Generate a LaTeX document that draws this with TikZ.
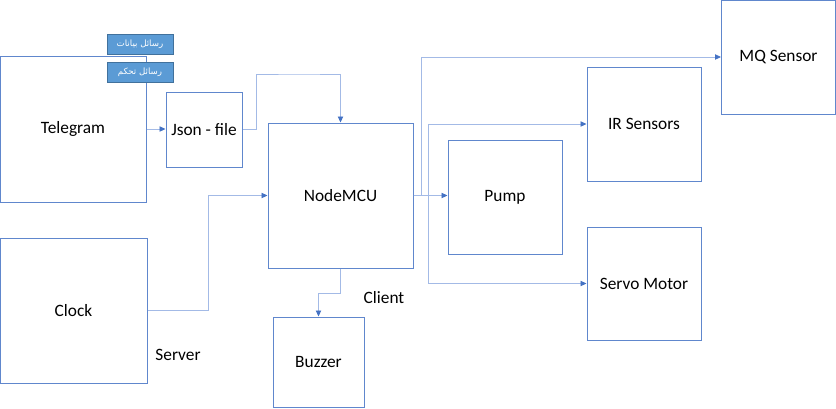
\documentclass[tikz,border=0pt]{standalone}
\usepackage{fontspec}
\setmainfont{Carlito}
\newfontfamily\arabicfont[Script=Arabic]{DejaVu Sans}
\TeXXeTstate=1
\usetikzlibrary{arrows.meta}

\definecolor{boxblue}{HTML}{4472C4}
\definecolor{wireblue}{HTML}{A3BAE6}
\definecolor{tagfill}{HTML}{5B9BD5}
\definecolor{tagdraw}{HTML}{41719C}

\tikzset{
  box/.style 2 args={draw=boxblue!85, line width=0.75pt, inner sep=0pt,
    minimum width=#1*0.75pt, minimum height=#2*0.75pt,
    font=\fontsize{13}{15}\selectfont},
  tag/.style={draw=tagdraw, fill=tagfill, line width=0.6pt, inner sep=0pt,
    minimum width=66*0.75pt, minimum height=20*0.75pt, text=white,
    font=\arabicfont\fontsize{6.5}{8}\selectfont},
  wire/.style={draw=wireblue, line width=0.6pt,
    -{Triangle[length=4.5pt,width=4pt,color=boxblue]}},
  lbl/.style={font=\fontsize{13}{15}\selectfont, inner sep=0pt}
}

\begin{document}
\begin{tikzpicture}[x=0.75pt, y=-0.75pt]
		\useasboundingbox (0,0) rectangle (836,408);
		%Blocs
		\node[box={146}{146}] (tele) at (73,129) {Telegram};
		\node[box={76}{75}] (json) at (204,129.5) {Json - file};
		\node[box={145}{145}] (mcu) at (340.5,195.5) {NodeMCU};
		\node[box={147}{145}] (clock) at (73.5,310.5) {Clock};
		\node[box={91}{90}] (buzz) at (318.5,362) {Buzzer};
		\node[box={114}{114}] (pump) at (505,197) {Pump};
		\node[box={114}{114}] (ir) at (644,124) {IR Sensors};
		\node[box={114}{113}] (servo) at (644,283.5) {Servo Motor};
		\node[box={114}{114}] (mq) at (778.5,57) {MQ Sensor};
		%Messages
		\node[tag] (data) at (140,44.5) {\beginR رسائل بيانات\endR};
		\node[tag] (ctrl) at (140,72) {\beginR رسائل تحكم\endR};
		%Etiquettes
		\node[lbl] (server) at (178,355) {Server};
		\node[lbl] (client) at (384,298) {Client};
		%Liaisons
		\draw[wire] (tele.east) -- (tele.east -| json.west);
		\draw[wire] (json.east) -- ++(14,0) |- (300,74) -| (mcu.north);
		\draw[wire] (clock.east) -- ++(61,0) |- (mcu.west);
		\draw[wire] (mcu.south) -- ++(0,25) -| (buzz.north);
		\draw[wire] (mcu.east) -- (mcu.east -| pump.west);
		\draw[wire] (mcu.east) -- ++(8,0) |- (mq.west);
		\draw[wire] (mcu.east) -- ++(15,0) |- (ir.west);
		\draw[wire] (mcu.east) -- ++(15,0) |- (servo.west);
	\end{tikzpicture}
\end{document}
